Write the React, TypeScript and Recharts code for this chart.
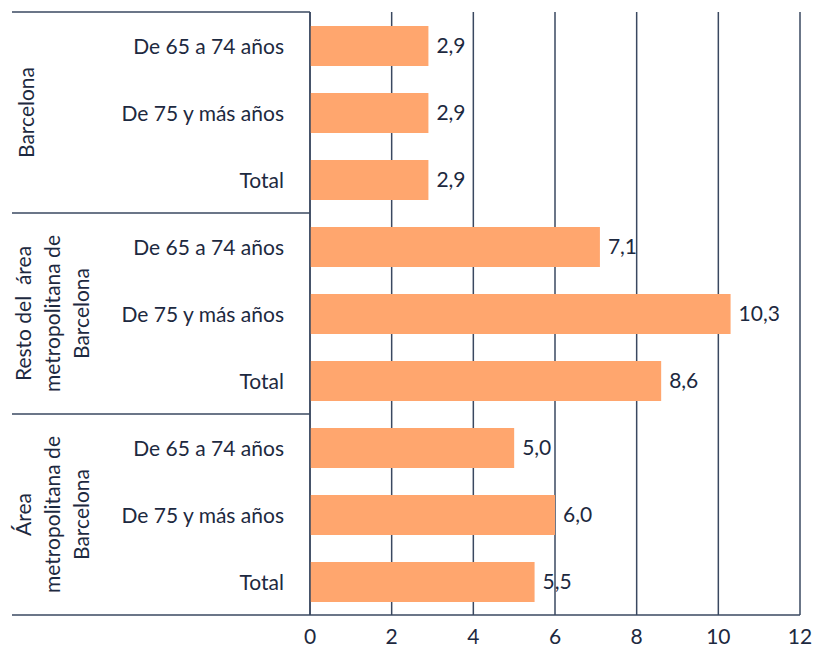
import { BarChart, Bar, XAxis, YAxis, CartesianGrid, LabelList } from "recharts";

const groups = [
  ["Barcelona"],
  ["Resto del  área", "metropolitana de", "Barcelona"],
  ["Área", "metropolitana de", "Barcelona"],
];
const ageLabels = ["De 65 a 74 años", "De 75 y más años", "Total"];
const values = [2.9, 2.9, 2.9, 7.1, 10.3, 8.6, 5.0, 6.0, 5.5];
const xTicks = [0, 2, 4, 6, 8, 10, 12];

const data = values.map((v, i) => ({
  id: `r${i}`,
  group: Math.floor(i / ageLabels.length),
  age: ageLabels[i % ageLabels.length],
  value: v,
}));

const TEXT = "#1d2940";
const LINE = "#3a4860";
const BAR = "#FFA66E";
const FONT = "Lato, 'Open Sans', sans-serif";
const FS = 21;
const AXIS_W = 310;
const LINE_GAP = 29;

function AgeTick(props: any) {
  const { x, y, payload } = props;
  const row = data[payload.index];
  const half = payload.offset ?? 33.5;
  const pos = payload.index % ageLabels.length;
  const isLast = payload.index === data.length - 1;
  const lines = groups[row.group];
  return (
    <g>
      <text
        x={x}
        y={y}
        textAnchor="end"
        dominantBaseline="central"
        fill={TEXT}
        fontSize={FS}
        fontFamily={FONT}
      >
        {row.age}
      </text>
      {pos === 0 && (
        <line x1={12} x2={AXIS_W} y1={y - half} y2={y - half} stroke={LINE} strokeWidth={1.5} />
      )}
      {isLast && (
        <line x1={12} x2={AXIS_W} y1={y + half} y2={y + half} stroke={LINE} strokeWidth={1.5} />
      )}
      {pos === 1 &&
        lines.map((t, k) => {
          const cx = 24 + k * LINE_GAP + (lines.length === 1 ? 1 : -2);
          return (
            <text
              key={k}
              x={cx}
              y={y}
              transform={`rotate(-90, ${cx}, ${y})`}
              textAnchor="middle"
              dominantBaseline="central"
              fill={TEXT}
              fontSize={FS}
              fontFamily={FONT}
              style={{ whiteSpace: "pre" }}
            >
              {t}
            </text>
          );
        })}
    </g>
  );
}

export default function App() {
  return (
    <div style={{ position: "absolute", left: 0, top: 0, background: "#fff" }}>
      <BarChart
        width={816}
        height={653}
        data={data}
        layout="vertical"
        margin={{ top: 12, right: 16, bottom: 0, left: 0 }}
        barSize={40}
      >
        <CartesianGrid horizontal={false} stroke={LINE} strokeWidth={1.5} />
        <XAxis
          type="number"
          domain={[0, 12]}
          ticks={xTicks}
          axisLine={{ stroke: LINE, strokeWidth: 1.5 }}
          tickLine={false}
          tickMargin={8}
          tick={{ fill: TEXT, fontSize: FS, fontFamily: FONT }}
          height={38}
        />
        <YAxis
          type="category"
          dataKey="id"
          width={AXIS_W}
          axisLine={{ stroke: LINE, strokeWidth: 1.5 }}
          tickLine={false}
          tickMargin={20}
          interval={0}
          tick={<AgeTick />}
        />
        <Bar dataKey="value" fill={BAR} isAnimationActive={false}>
          <LabelList
            dataKey="value"
            position="right"
            offset={8}
            formatter={(v: any) => Number(v).toFixed(1).replace(".", ",")}
            style={{ fill: TEXT, fontSize: FS, fontFamily: FONT }}
          />
        </Bar>
      </BarChart>
    </div>
  );
}
